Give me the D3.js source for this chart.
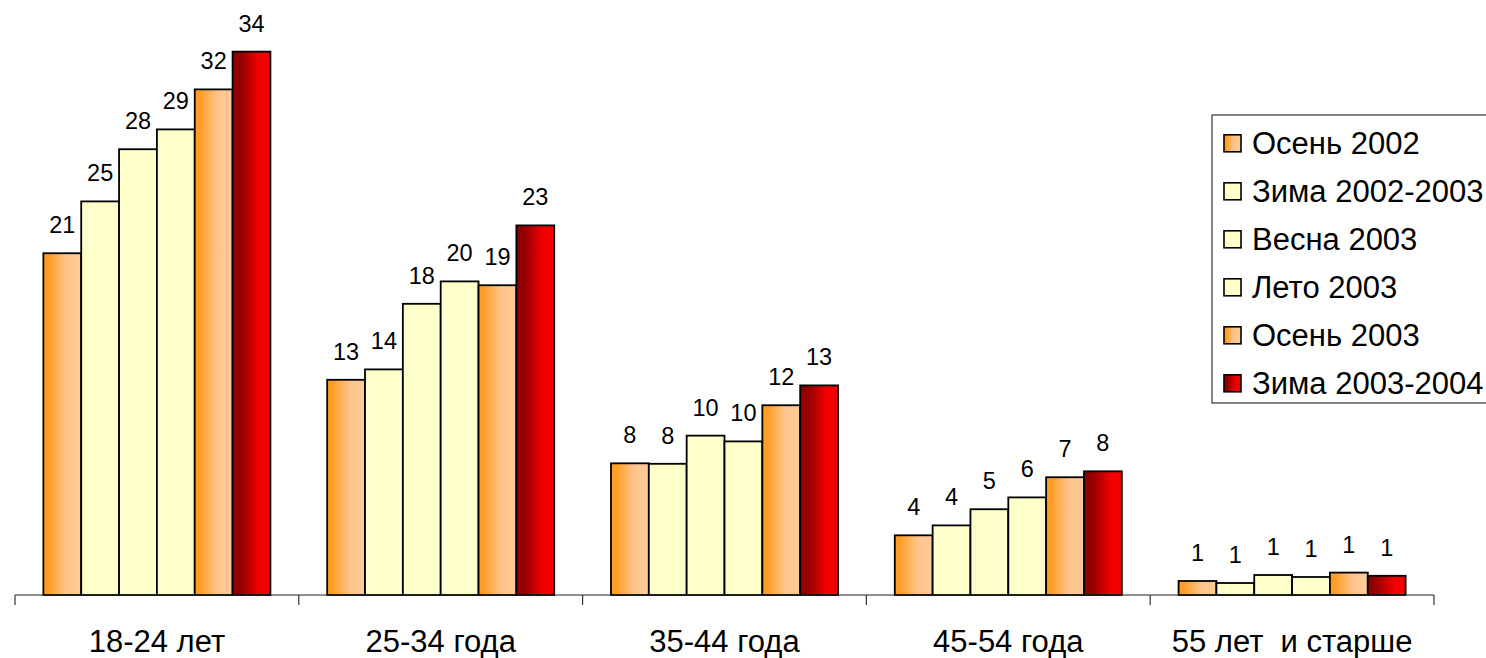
<!DOCTYPE html>
<html>
<head>
<meta charset="utf-8">
<script src="https://cdn.jsdelivr.net/npm/d3@7"></script>
<style>
  html, body { margin: 0; padding: 0; background: #fff; overflow: hidden; }
  svg { display: block; font-family: "Liberation Sans", Arial, sans-serif; }
</style>
</head>
<body>
<svg id="chart" width="1486" height="658"></svg>
<script>
const categories = ["18-24 лет", "25-34 года", "35-44 года", "45-54 года", "55 лет  и старше"];
const seriesNames = ["Осень 2002", "Зима 2002-2003", "Весна 2003", "Лето 2003", "Осень 2003", "Зима 2003-2004"];
const osen2002  = [21.36, 13.45, 8.23, 3.73, 0.875];
const zima0203  = [24.6, 14.1, 8.2, 4.35, 0.75];
const vesna2003 = [27.86, 18.2, 9.96, 5.36, 1.25];
const leto2003  = [29.1, 19.6, 9.6, 6.1, 1.125];
const osen2003  = [31.6, 19.36, 11.86, 7.36, 1.4];
const zima0304  = [33.96, 23.1, 13.1, 7.73, 1.2];
const seriesValues = [osen2002, zima0203, vesna2003, leto2003, osen2003, zima0304];
const seriesFill = ["url(#gOrange)", "#FFFFCC", "#FFFFCC", "#FFFFCC", "url(#gOrange)", "url(#gRed)"];

const svg = d3.select("#chart");
const defs = svg.append("defs");
function grad(id, stops) {
  const g = defs.append("linearGradient").attr("id", id)
    .attr("x1", "0%").attr("x2", "100%").attr("y1", "0%").attr("y2", "0%");
  stops.forEach(s => g.append("stop").attr("offset", s[0]).attr("stop-color", s[1]));
}
grad("gOrange", [["0%", "#FF9A20"], ["15%", "#FF9E28"], ["60%", "#FFC48C"], ["100%", "#FFCB98"]]);
grad("gRed", [["0%", "#860000"], ["25%", "#9A0000"], ["70%", "#F20000"], ["100%", "#F40000"]]);

const baseY = 595;
const x0 = d3.scaleBand().domain(categories).range([15, 1434]).padding(0);
const bw = x0.bandwidth();
const x1 = d3.scaleBand().domain(d3.range(seriesNames.length)).range([bw * 0.1, bw * 0.9]).padding(0);
const y = d3.scaleLinear().domain([0, 35]).range([baseY, 35]);

// bars
const groups = svg.append("g").selectAll("g").data(categories).join("g")
  .attr("transform", d => `translate(${x0(d)},0)`);

seriesValues.forEach((vals, si) => {
  groups.append("rect")
    .attr("x", x1(si))
    .attr("width", x1.bandwidth())
    .attr("y", (d, ci) => y(vals[ci]))
    .attr("height", (d, ci) => baseY - y(vals[ci]))
    .attr("fill", seriesFill[si])
    .attr("stroke", "#000")
    .attr("stroke-width", 1.8);
  groups.append("text")
    .attr("x", x1(si) + x1.bandwidth() / 2)
    .attr("y", (d, ci) => y(vals[ci]) - 20)
    .attr("text-anchor", "middle")
    .attr("font-size", 23.5)
    .attr("fill", "#000")
    .text((d, ci) => Math.round(vals[ci]));
});

// axis
const axis = svg.append("g");
axis.append("line").attr("x1", 15).attr("x2", 1434).attr("y1", baseY).attr("y2", baseY)
  .attr("stroke", "#222").attr("stroke-width", 1.2);
const tickPos = categories.map(c => x0(c)).concat([x0(categories[categories.length - 1]) + bw]);
axis.selectAll("line.tick").data(tickPos).join("line").attr("class", "tick")
  .attr("x1", d => d).attr("x2", d => d).attr("y1", baseY).attr("y2", baseY + 10)
  .attr("stroke", "#333").attr("stroke-width", 1.2);
axis.selectAll("text").data(categories).join("text")
  .attr("x", d => x0(d) + bw / 2)
  .attr("y", 652)
  .attr("text-anchor", "middle")
  .attr("font-size", 31)
  .attr("fill", "#000")
  .style("white-space", "pre")
  .attr("xml:space", "preserve")
  .text(d => d);

// legend
const legend = svg.append("g");
legend.append("rect").attr("x", 1212).attr("y", 115).attr("width", 320).attr("height", 288)
  .attr("fill", "#fff").attr("stroke", "#333").attr("stroke-width", 1.2);
const rowY = d3.scalePoint().domain(seriesNames).range([143.3, 383.3]);
const items = legend.selectAll("g").data(seriesNames).join("g")
  .attr("transform", d => `translate(0,${rowY(d)})`);
items.append("rect").attr("x", 1224).attr("y", -8.5).attr("width", 17).attr("height", 17)
  .attr("fill", (d, i) => seriesFill[i]).attr("stroke", "#000").attr("stroke-width", 1.6);
items.append("text").attr("x", 1252).attr("y", 10.5)
  .attr("font-size", 31).attr("fill", "#000").text(d => d);
</script>
</body>
</html>
